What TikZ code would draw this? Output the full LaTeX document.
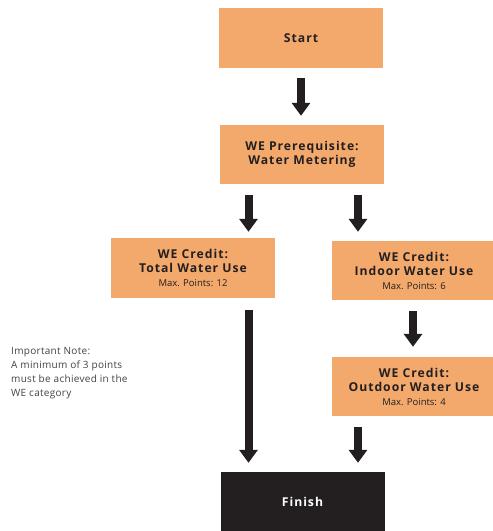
\documentclass[tikz,border=0pt]{standalone}
\usepackage{fontspec}
\setmainfont{Open Sans}
\newfontfamily\titlefont{Open Sans}[LetterSpace=8]
\newfontfamily\notefont{Open Sans}[LetterSpace=3]
\usetikzlibrary{arrows.meta}
\definecolor{boxorange}{HTML}{F3A96B}
\definecolor{inkblack}{HTML}{231F20}
\newcommand{\ptsfont}{\normalfont\fontsize{9.5}{11}\selectfont}
\begin{document}
\begin{tikzpicture}[x=1pt,y=-1pt,
  stepbox/.style={draw=none,fill=boxorange,minimum width=164pt,minimum height=60pt,
    inner sep=0pt,align=center,text=inkblack,font=\titlefont\fontsize{12.2}{14}\selectfont\bfseries},
  endbox/.style={stepbox,fill=inkblack,text=white},
  bigarrow/.style={draw=inkblack,line width=8pt,-{Triangle[width=18pt,length=13pt]}}]
\useasboundingbox (0,0) rectangle (493,531);
\node[stepbox] (start) at (301,38) {Start};
\node[stepbox,minimum height=59pt] (prereq) at (302,154.5) {WE Prerequisite:\\Water Metering};
\node[stepbox] (total) at (193,268) {WE Credit:\\Total Water Use\\{\ptsfont Max. Points: 12}};
\node[stepbox,minimum height=59pt] (indoor) at (414,270.5) {WE Credit:\\Indoor Water Use\\{\ptsfont Max. Points: 6}};
\node[stepbox,minimum height=59pt] (outdoor) at (414,386.5) {WE Credit:\\Outdoor Water Use\\{\ptsfont Max. Points: 4}};
\node[endbox] (finish) at (302.5,502) {Finish};
\node[anchor=north west,inner sep=0pt,align=left,text=inkblack!85,
  font=\notefont\fontsize{10}{14}\selectfont] (note) at (11,347)
  {Important Note:\\A minimum of 3 points\\must be achieved in the\\WE category};
\coordinate (xm) at (301,0);
\coordinate (xl) at (248.5,0);
\coordinate (xr) at (358,0);
\coordinate (xo) at (413,0);
\draw[bigarrow,shorten <=10pt,shorten >=9pt] (start.south -| xm) -- (prereq.north -| xm);
\draw[bigarrow,shorten <=11pt,shorten >=6pt] (prereq.south -| xl) -- (total.north -| xl);
\draw[bigarrow,shorten <=11pt,shorten >=9pt] (prereq.south -| xr) -- (indoor.north -| xr);
\draw[bigarrow,shorten <=12pt,shorten >=9pt] (total.south -| xl) -- (finish.north -| xl);
\draw[bigarrow,shorten <=11pt,shorten >=10pt] (indoor.south -| xo) -- (outdoor.north -| xo);
\draw[bigarrow,shorten <=11pt,shorten >=9pt] (outdoor.south -| xr) -- (finish.north -| xr);
\end{tikzpicture}
\end{document}
